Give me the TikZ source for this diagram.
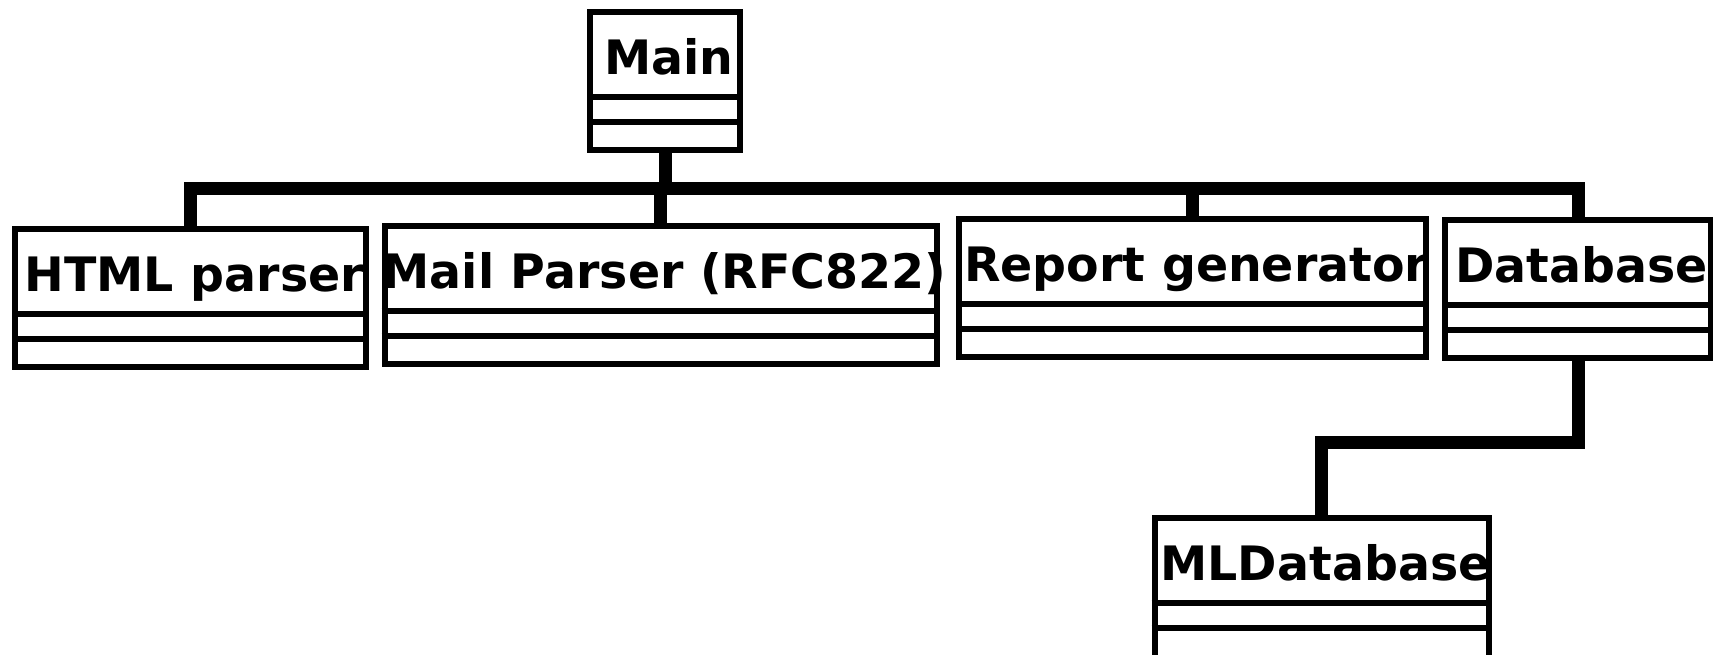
\documentclass[tikz,border=0pt]{standalone}
\usepackage{fontspec}
\setmainfont{DejaVu Sans}
\usepackage{tikz}
\usetikzlibrary{
    positioning,
    calc
}
\tikzset{
    % Class boxes
    class line/.style={line width=0.12cm},
    class box/.style={class line,draw,rectangle,inner sep=0pt,
        minimum height=2.76cm,text height=1.24cm,text depth=1.52cm,
        execute at begin node={\hspace{0.15cm}},
        font=\bfseries\fontsize{27}{30}\selectfont},
    %
    % Connectors
    link/.style={line width=0.26cm}
}

\begin{document}
\begin{tikzpicture}[x=0.02cm,y=-0.02cm]
        \useasboundingbox (0,0) rectangle (1713,654);
        \node[class box,minimum width=3cm] (main) at (665,81) {\makebox[0pt]{Main}};
        \node[class box,minimum width=7.02cm] (html) at (190.5,298) {\makebox[0pt]{HTML parser}};
        \node[class box,minimum width=11.05cm] (mail) at (660.75,295) {\makebox[0pt]{Mail Parser (RFC822)}};
        \node[class box,minimum width=9.34cm] (report) at (1192.5,288) {\makebox[0pt]{Report generator}};
        \node[class box,minimum width=5.31cm] (db) at (1578,289) {\makebox[0pt]{Database}};
        \node[class box,minimum width=6.69cm,minimum height=2.84cm,text depth=1.6cm] (mldb) at (1321.75,589) {\makebox[0pt]{MLDatabase}};
        % compartments
        \foreach \n in {main,html,mail,report,db,mldb} {
            \draw[class line] ([yshift=-1.76cm]\n.north west) -- ([yshift=-1.76cm]\n.north east);
            \draw[class line] ([yshift=-2.26cm]\n.north west) -- ([yshift=-2.26cm]\n.north east);
        }
        % inheritance
        \foreach \c in {html,mail,report,db}
            \draw[link] (main.south) -- ++(0,35.5) -| (\c.north);
        \draw[link] (db.south) -- ++(0,81) -| (mldb.north);
    \end{tikzpicture}
\end{document}
